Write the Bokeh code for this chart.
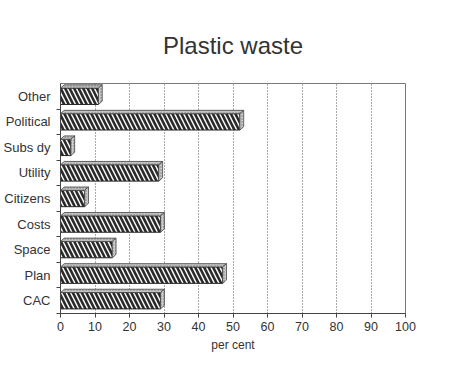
from bokeh.plotting import figure
from bokeh.models import Range1d, FixedTicker, ColumnDataSource
from bokeh.embed import file_html
from bokeh.resources import INLINE

categories = ["CAC", "Plan", "Space", "Costs", "Citizens", "Utility", "Subsidy", "Political", "Other"]
tick_labels = ["CAC", "Plan", "Space", "Costs", "Citizens", "Utility", "Subs dy", "Political", "Other"]
values = [29, 47, 15, 29, 7, 28.5, 3, 52, 11]
x_ticks = [0, 10, 20, 30, 40, 50, 60, 70, 80, 90, 100]

FONT = "Liberation Sans"
H = 0.64   # bar thickness
DX = 1.1   # depth offset in x (data units)
DY = 0.13  # depth offset in y (data units)

ys = list(range(len(categories)))

p = figure(width=444, height=354, output_backend="svg", toolbar_location=None,
           x_range=Range1d(0, 100), y_range=Range1d(-0.5, len(categories) - 0.5),
           min_border_left=51, min_border_right=39, min_border_bottom=28, min_border_top=83)

p.title.text = "Plastic waste"
p.title.align = "center"
p.title.text_font = FONT
p.title.text_font_size = "24px"
p.title.text_font_style = "normal"
p.title.text_color = "#333333"
p.title.standoff = 50

# top faces and side faces of the 3D bars, derived from the values
top_xs = [[0, v, v + DX, DX] for v in values]
top_ys = [[y + H / 2, y + H / 2, y + H / 2 + DY, y + H / 2 + DY] for y in ys]
side_xs = [[v, v + DX, v + DX, v] for v in values]
side_ys = [[y - H / 2, y - H / 2 + DY, y + H / 2 + DY, y + H / 2] for y in ys]

src = ColumnDataSource(dict(y=ys, v=values))

p.hbar(y="y", right="v", left=0, height=H, source=src, fill_color="white",
       hatch_pattern="\\", hatch_color="#2a2a2a", hatch_weight=2.6, hatch_scale=9,
       line_color="#222222", line_width=1)
p.patches(top_xs, top_ys, fill_color="#c4c4c4", line_color="#444444", line_width=0.8,
          hatch_pattern=".", hatch_color="#777777", hatch_scale=3)
p.patches(side_xs, side_ys, fill_color="#cccccc", line_color="#444444", line_width=0.8,
          hatch_pattern=".", hatch_color="#777777", hatch_scale=3)

# axes
p.xaxis.ticker = FixedTicker(ticks=x_ticks)
p.yaxis.ticker = FixedTicker(ticks=ys, minor_ticks=[y + 0.5 for y in ys[:-1]] + [-0.5])
p.yaxis.major_label_overrides = {y: lab for y, lab in zip(ys, tick_labels)}
p.yaxis.major_tick_out = 0
p.yaxis.major_tick_in = 0
p.yaxis.minor_tick_out = 4
p.yaxis.minor_tick_in = 0
p.xaxis.minor_tick_line_color = None
p.xaxis.major_tick_out = 4
p.xaxis.major_tick_in = 0
for ax in (p.xaxis[0], p.yaxis[0]):
    ax.major_label_text_font = FONT
    ax.major_label_text_font_size = "12.5px"
    ax.major_label_text_color = "#333333"
    ax.axis_line_color = "#444444"
    ax.major_tick_line_color = "#444444"
    ax.minor_tick_line_color = "#444444"
p.yaxis.major_label_text_font_size = "13px"
p.xaxis.axis_label = "per cent"
p.xaxis.axis_label_text_font = FONT
p.xaxis.axis_label_text_font_size = "12px"
p.xaxis.axis_label_text_font_style = "normal"
p.xaxis.axis_label_text_color = "#333333"
p.xaxis.axis_label_standoff = 4
p.xaxis.major_label_standoff = 4
p.yaxis.major_label_standoff = 6

p.xgrid.grid_line_color = "#555555"
p.xgrid.grid_line_dash = "1 2"
p.xgrid.grid_line_width = 1
p.ygrid.grid_line_color = None
p.outline_line_color = "#777777"
p.background_fill_color = "white"
p.border_fill_color = "white"

open("out.html", "w").write(file_html(p, INLINE))
